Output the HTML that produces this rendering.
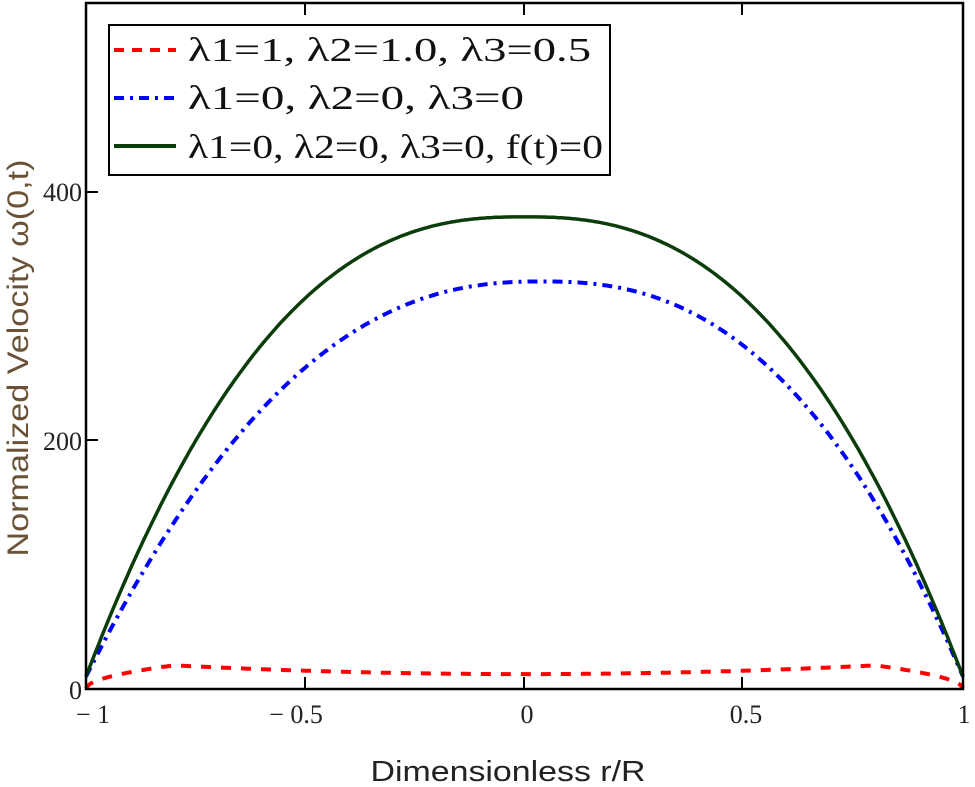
<!DOCTYPE html>
<html><head><style>
body{margin:0;background:#fff;}
svg{display:block;}
text{font-family:"Liberation Serif",serif;fill:#222;}
.lg{font-family:"Liberation Serif",serif;font-size:34px;fill:#111;}
</style></head><body>
<svg id="s" width="975" height="787" viewBox="0 0 975 787" xmlns="http://www.w3.org/2000/svg">
<rect width="975" height="787" fill="#fff"/>
<g id="curves"></g>
<rect x="86" y="3" width="877" height="686" fill="none" stroke="#000" stroke-width="2.5"/>
<line x1="86" y1="192" x2="98" y2="192" stroke="#000" stroke-width="2"/>
<line x1="86" y1="440" x2="98" y2="440" stroke="#000" stroke-width="2"/>
<line x1="305" y1="689" x2="305" y2="677" stroke="#000" stroke-width="2"/>
<line x1="524" y1="689" x2="524" y2="677" stroke="#000" stroke-width="2"/>
<line x1="742" y1="689" x2="742" y2="677" stroke="#000" stroke-width="2"/>
<line x1="305" y1="3" x2="305" y2="15" stroke="#000" stroke-width="2"/>
<line x1="524" y1="3" x2="524" y2="15" stroke="#000" stroke-width="2"/>
<line x1="742" y1="3" x2="742" y2="15" stroke="#000" stroke-width="2"/>
<g font-size="26" text-anchor="end">
<text x="82" y="699">0</text>
<text x="82" y="450">200</text>
<text x="82" y="201">400</text>
</g>
<g font-size="26" text-anchor="middle">
<text x="93" y="723">− 1</text>
<text x="296" y="723">− 0.5</text>
<text x="527" y="723">0</text>
<text x="746" y="723">0.5</text>
<text x="964" y="723">1</text>
</g>
<text x="508" y="781" font-size="29" text-anchor="middle" textLength="275" lengthAdjust="spacingAndGlyphs" style="font-family:'Liberation Sans',sans-serif">Dimensionless r/R</text>
<text transform="translate(28,358) rotate(-90)" font-size="30" text-anchor="middle" textLength="397" lengthAdjust="spacingAndGlyphs" style="fill:#6a5236;font-family:'Liberation Sans',sans-serif">Normalized Velocity  ω(0,t)</text>
<rect x="109" y="25" width="501" height="150" fill="#fff" stroke="#000" stroke-width="2"/>
<line x1="114" y1="50" x2="176" y2="50" stroke="#f00" stroke-width="4" stroke-dasharray="10,8"/>
<line x1="114" y1="98" x2="176" y2="98" stroke="#00f" stroke-width="4" stroke-dasharray="10,6,3,6"/>
<line x1="114" y1="146" x2="176" y2="146" stroke="#0b3d0b" stroke-width="4"/>
<text class="lg" x="188" y="61" textLength="403" lengthAdjust="spacingAndGlyphs">λ1=1, λ2=1.0, λ3=0.5</text>
<text class="lg" x="188" y="109" textLength="336" lengthAdjust="spacingAndGlyphs">λ1=0, λ2=0, λ3=0</text>
<text class="lg" x="188" y="158" textLength="415" lengthAdjust="spacingAndGlyphs">λ1=0, λ2=0, λ3=0,  f(t)=0</text>
</svg>
<script>
var g=document.getElementById('curves');
function X(x){return 524.5+x*438.5}
function Y(v){return 689-v*1.2425}
function path(f){var d='';for(var i=0;i<=400;i++){var x=-1+i/200;d+=(i?'L':'M')+X(x).toFixed(1)+','+Y(f(x)).toFixed(1);}return d;}
function add(d,c,w,da){var p=document.createElementNS('http://www.w3.org/2000/svg','path');p.setAttribute('d',d);p.setAttribute('fill','none');p.setAttribute('stroke',c);p.setAttribute('stroke-width',w);if(da)p.setAttribute('stroke-dasharray',da);g.appendChild(p);}
var green=function(x){return 10+370*(1-Math.pow(Math.abs(x),2.5));};
var blue=function(x){var xs=x-0.04*(1-x*x);return 10+318*(1-Math.pow(Math.abs(xs),2.4));};
var red=function(x){var a=Math.abs(x);if(a>0.8){var t=(1-a)/0.2;return 19*Math.sqrt(t);}return 12+7*Math.pow(a/0.8,2);};
add(path(red),'#f00',4,'10,10');
add(path(blue),'#00f',4,'10,6,3,6');
add(path(green),'#0b3d0b',3.5,null);
</script>
</body></html>
